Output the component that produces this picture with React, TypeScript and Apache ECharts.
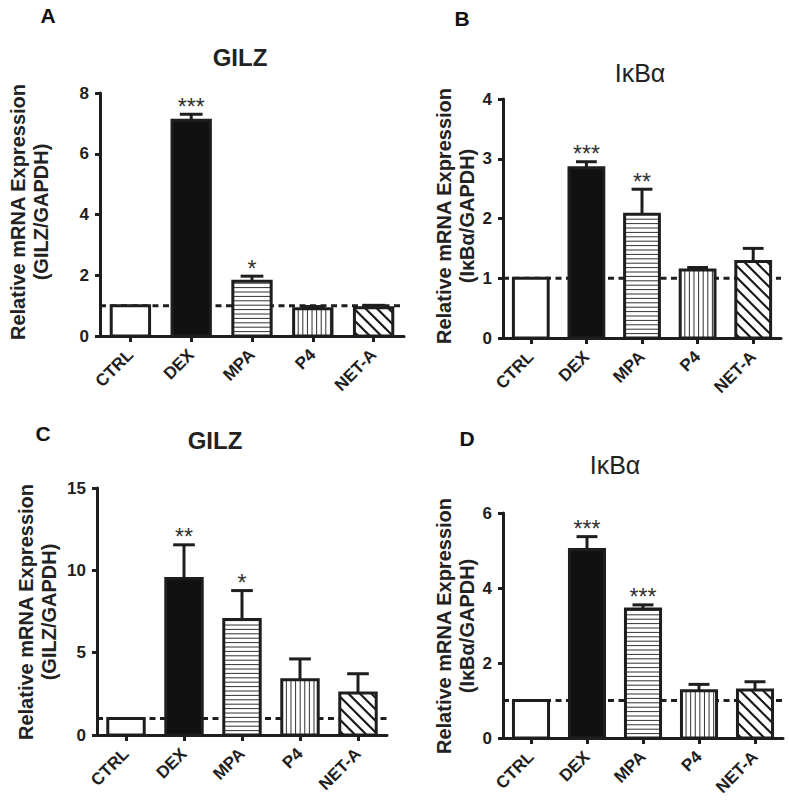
import { useEffect, useRef } from "react";
import * as echarts from "echarts";

// ---- Data ----
const categories = ["CTRL", "DEX", "MPA", "P4", "NET-A"];

const valuesA = [1.0, 7.1, 1.8, 0.9, 0.93];
const semA = [0, 0.2, 0.17, 0.07, 0.08];
const starsA = ["", "***", "*", "", ""];

const valuesB = [1.0, 2.85, 2.07, 1.14, 1.28];
const semB = [0, 0.1, 0.42, 0.04, 0.22];
const starsB = ["", "***", "**", "", ""];

const valuesC = [1.0, 9.5, 7.02, 3.35, 2.55];
const semC = [0, 2.05, 1.75, 1.27, 1.17];
const starsC = ["", "**", "*", "", ""];

const valuesD = [1.0, 5.03, 3.44, 1.26, 1.28];
const semD = [0, 0.34, 0.11, 0.17, 0.22];
const starsD = ["", "***", "***", "", ""];

const referenceLevel = 1;

const titles = ["GILZ", "IκBα", "GILZ", "IκBα"];
const letters = ["A", "B", "C", "D"];
const yNames = [
  "Relative mRNA Expression\n(GILZ/GAPDH)",
  "Relative mRNA Expression\n(IκBα/GAPDH)",
  "Relative mRNA Expression\n(GILZ/GAPDH)",
  "Relative mRNA Expression\n(IκBα/GAPDH)",
];
const yMaxes = [8, 4, 15, 6];
const yIntervals = [2, 1, 5, 2];

// ---- Styles / layout ----
const FONT = "Liberation Sans, Arial, sans-serif";
const INK = "#1e1e1e";
const grids = [
  { left: 100, top: 93, width: 304, height: 243 },
  { left: 503, top: 99, width: 278, height: 239 },
  { left: 97, top: 488, width: 290, height: 247 },
  { left: 503, top: 513, width: 280, height: 225 },
];
const letterPos = [
  [48, 15],
  [462, 18],
  [43, 433],
  [467, 438],
];
const titlePos = [
  [240, 57],
  [640, 73],
  [215, 440],
  [615, 465],
];
const yNamePos = [
  [29, 212],
  [455, 216],
  [37, 612],
  [455, 626],
];
// pattern per category: fill type
const barKinds = ["empty", "solid", "hstripe", "vstripe", "diag"];

function makeBarRenderer(semArr: number[], starArr: string[]) {
  return (params: any, api: any) => {
    const i = api.value(0);
    const v = api.value(1);
    const top = api.coord([i, v]);
    const base = api.coord([i, 0]);
    const band = api.size([1, 0])[0];
    const lw = 3;
    const outerW = band * 0.68;
    const cx = top[0];
    const x0 = cx - outerW / 2 + lw / 2;
    const x1 = cx + outerW / 2 - lw / 2;
    const y0 = top[1];
    const y1 = base[1];
    const kind = barKinds[i];
    const children: any[] = [];
    children.push({
      type: "rect",
      shape: { x: x0, y: y0, width: x1 - x0, height: y1 - y0 },
      style: { fill: kind === "solid" ? "#111" : "#fff", stroke: null },
    });
    if (kind === "hstripe") {
      const step = 4.4;
      for (let y = y1 - step; y > y0 + 1; y -= step) {
        children.push({
          type: "line",
          shape: { x1: x0, y1: y, x2: x1, y2: y },
          style: { stroke: "#333", lineWidth: 1 },
        });
      }
    } else if (kind === "vstripe") {
      const step = 4.6;
      for (let x = x0 + step; x < x1 - 1; x += step) {
        children.push({
          type: "line",
          shape: { x1: x, y1: y0, x2: x, y2: y1 },
          style: { stroke: "#333", lineWidth: 1 },
        });
      }
    } else if (kind === "diag") {
      const step = 11.5;
      const cMin = y0 - x1;
      const cMax = y1 - x0;
      for (let c = cMax - 4; c > cMin; c -= step) {
        const xa = Math.max(x0, y0 - c);
        const xb = Math.min(x1, y1 - c);
        if (xb - xa < 0.5) continue;
        children.push({
          type: "line",
          shape: { x1: xa, y1: xa + c, x2: xb, y2: xb + c },
          style: { stroke: "#1a1a1a", lineWidth: 2.2 },
        });
      }
    }
    children.push({
      type: "rect",
      shape: { x: x0, y: y0, width: x1 - x0, height: y1 - y0 },
      style: { fill: null, stroke: INK, lineWidth: lw },
    });
    const sem = semArr[i];
    let markY = y0;
    if (sem > 0) {
      const errY = api.coord([i, v + sem])[1];
      const capW = outerW * 0.55;
      children.push({
        type: "line",
        shape: { x1: cx, y1: y0, x2: cx, y2: errY },
        style: { stroke: INK, lineWidth: 3 },
      });
      children.push({
        type: "line",
        shape: { x1: cx - capW / 2, y1: errY, x2: cx + capW / 2, y2: errY },
        style: { stroke: INK, lineWidth: 3 },
      });
      markY = errY;
    }
    const star = starArr[i];
    if (star) {
      children.push({
        type: "text",
        x: cx,
        y: markY + 4,
        style: {
          text: star,
          align: "center",
          verticalAlign: "bottom",
          font: `normal 23px ${FONT}`,
          fill: "#333",
        },
      });
    }
    return { type: "group", children };
  };
}

function refLineRenderer(params: any, api: any) {
  const cs = params.coordSys;
  const p = api.coord([0, api.value(1)]);
  return {
    type: "line",
    shape: { x1: cs.x, y1: p[1], x2: cs.x + cs.width, y2: p[1] },
    style: { stroke: INK, lineWidth: 3, lineDash: [6, 4.5] },
  };
}

export default function App() {
  const ref = useRef<HTMLDivElement>(null);
  useEffect(() => {
    if (!ref.current) return;
    const chart = echarts.init(ref.current, undefined, { renderer: "svg" });
    const valueSets = [valuesA, valuesB, valuesC, valuesD];
    const semSets = [semA, semB, semC, semD];
    const starSets = [starsA, starsB, starsC, starsD];

    const xAxis = grids.map((_, k) => ({
      type: "category",
      gridIndex: k,
      data: categories,
      axisLine: { show: true, lineStyle: { color: INK, width: 3 } },
      axisTick: {
        show: true,
        alignWithLabel: true,
        length: 6,
        lineStyle: { color: INK, width: 3 },
      },
      axisLabel: {
        interval: 0,
        rotate: 45,
        margin: 16,
        color: INK,
        fontFamily: FONT,
        fontWeight: "bold",
        fontSize: 17,
      },
      splitLine: { show: false },
    }));
    const yAxis = grids.map((_, k) => ({
      type: "value",
      gridIndex: k,
      min: 0,
      max: yMaxes[k],
      interval: yIntervals[k],
      axisLine: { show: true, lineStyle: { color: INK, width: 3 } },
      axisTick: { show: true, length: 5, lineStyle: { color: INK, width: 3 } },
      axisLabel: {
        margin: 11,
        color: INK,
        fontFamily: FONT,
        fontWeight: "bold",
        fontSize: 17,
      },
      splitLine: { show: false },
    }));

    const series: any[] = [];
    grids.forEach((_, k) => {
      series.push({
        type: "custom",
        name: `ref${k}`,
        xAxisIndex: k,
        yAxisIndex: k,
        z: 1,
        silent: true,
        data: [[0, referenceLevel]],
        renderItem: refLineRenderer,
      });
      series.push({
        type: "custom",
        name: titles[k],
        xAxisIndex: k,
        yAxisIndex: k,
        z: 3,
        data: valueSets[k].map((v, i) => [i, v]),
        renderItem: makeBarRenderer(semSets[k], starSets[k]),
      });
    });

    const graphic: any[] = [];
    grids.forEach((_, k) => {
      graphic.push({
        type: "text",
        x: letterPos[k][0],
        y: letterPos[k][1],
        style: {
          text: letters[k],
          align: "center",
          verticalAlign: "middle",
          font: `bold 21px ${FONT}`,
          fill: "#111",
        },
      });
      graphic.push({
        type: "text",
        x: titlePos[k][0],
        y: titlePos[k][1],
        style: {
          text: titles[k],
          align: "center",
          verticalAlign: "middle",
          font: titles[k] === "GILZ" ? `bold 24px ${FONT}` : `normal 25px ${FONT}`,
          fill: "#222",
        },
      });
      graphic.push({
        type: "text",
        x: yNamePos[k][0],
        y: yNamePos[k][1],
        rotation: Math.PI / 2,
        style: {
          text: yNames[k],
          align: "center",
          verticalAlign: "middle",
          lineHeight: 23,
          font: `bold 20px ${FONT}`,
          fill: "#222",
        },
      });
    });

    chart.setOption({
      animation: false,
      backgroundColor: "#fff",
      grid: grids.map((g) => ({ ...g, containLabel: false })),
      xAxis,
      yAxis,
      series,
      graphic,
    });
    return () => chart.dispose();
  }, []);
  return (
    <div
      ref={ref}
      style={{ position: "fixed", left: 0, top: 0, width: 789, height: 805 }}
    />
  );
}
